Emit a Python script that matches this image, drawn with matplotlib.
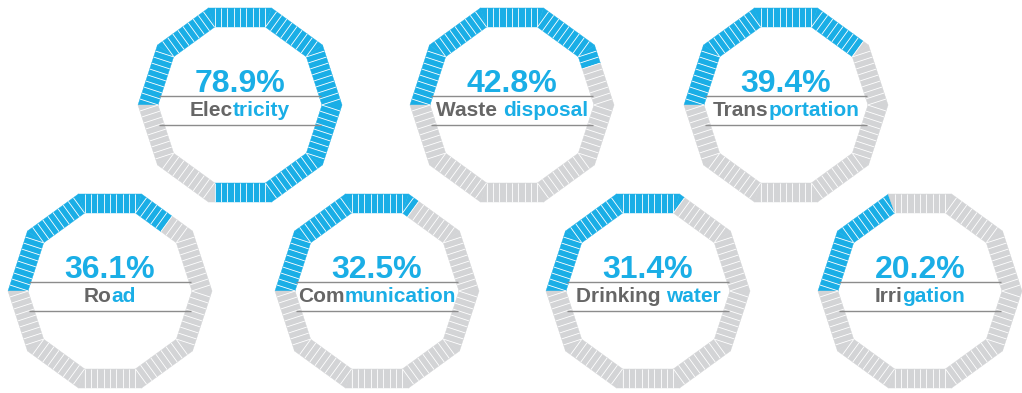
import numpy as np
import matplotlib.pyplot as plt
from matplotlib.collections import PolyCollection, LineCollection

# shares of households with access, by service
categories = ["Electricity", "Waste disposal", "Transportation", "Road",
              "Communication", "Drinking water", "Irrigation"]
values = [78.9, 42.8, 39.4, 36.1, 32.5, 31.4, 20.2]
# how many leading characters of each label are printed in grey
gray_chars = [4, 6, 5, 2, 3, 9, 4]

BLUE = '#1aaee6'
SEG_GRAY = '#d3d4d6'
TXT_GRAY = '#666666'
RULE = '#8c8c8c'
FONT = 'Liberation Sans'

# ring layout (pixel coordinates, y down)
centers = [(240, 105), (512, 105), (786, 105),
           (110, 291), (377, 291), (648, 291), (920, 291)]
R_OUT, R_IN = 102, 82
N_SIDE = 10  # segments per side -> 100 segments per ring


def decagon(cx, cy, r):
    # start at the left vertex and walk clockwise
    ang = np.deg2rad(180 - 36 * np.arange(11))
    return np.column_stack([cx + r * np.cos(ang), cy - r * np.sin(ang)])


def ring_segments(cx, cy):
    outer = decagon(cx, cy, R_OUT)
    inner = decagon(cx, cy, R_IN)
    polys, seps = [], []
    for k in range(10):
        a, b = inner[k], inner[k + 1]
        d = b - a
        L2 = d @ d

        def foot(p):
            # perpendicular drop onto the inner side, kept inside it
            t = np.clip((p - a) @ d / L2, 0, 1)
            return a + d * t

        for j in range(N_SIDE):
            t0, t1 = j / N_SIDE, (j + 1) / N_SIDE
            o0 = outer[k] + (outer[k + 1] - outer[k]) * t0
            o1 = outer[k] + (outer[k + 1] - outer[k]) * t1
            i0, i1 = foot(o0), foot(o1)
            if j == 0:
                i0 = a
            if j == N_SIDE - 1:
                i1 = b
            polys.append([o0, o1, i1, i0])
            if j > 0:
                seps.append([o0, i0])
    return polys, seps


fig = plt.figure(figsize=(10.22, 3.93), dpi=100)
ax = fig.add_axes([0, 0, 1, 1])
ax.set_xlim(0, 1022)
ax.set_ylim(393, 0)
ax.axis('off')

renderer = fig.canvas.get_renderer()

for (cx, cy), name, v, ng in zip(centers, categories, values, gray_chars):
    polys, seps = ring_segments(cx, cy)
    n_blue = int(round(v))
    colors = [BLUE if i < n_blue else SEG_GRAY for i in range(len(polys))]
    ax.add_collection(PolyCollection(polys, facecolors=colors,
                                     edgecolors=colors, linewidths=0.3))
    ax.add_collection(LineCollection(seps, colors='white', linewidths=0.6))

    ax.text(cx, cy - 13, f"{v}%", ha='center', va='baseline', fontsize=23,
            fontweight='bold', color=BLUE, family=FONT)

    for dy in (-9, 20):
        ax.plot([cx - R_IN + 1, cx + R_IN - 1], [cy + dy, cy + dy],
                color=RULE, lw=1.0, solid_capstyle='butt')

    # two-colour label, centred as a whole
    kw = dict(va='baseline', fontsize=15, fontweight='bold', family=FONT)
    full = ax.text(0, 0, name, **kw)
    w_full = full.get_window_extent(renderer).width
    full.remove()
    left = cx - w_full / 2
    right = cx + w_full / 2
    ax.text(left, cy + 11, name[:ng], ha='left', color=TXT_GRAY, **kw)
    ax.text(right, cy + 11, name[ng:], ha='right', color=BLUE, **kw)

fig.savefig('out.png', dpi=100)
